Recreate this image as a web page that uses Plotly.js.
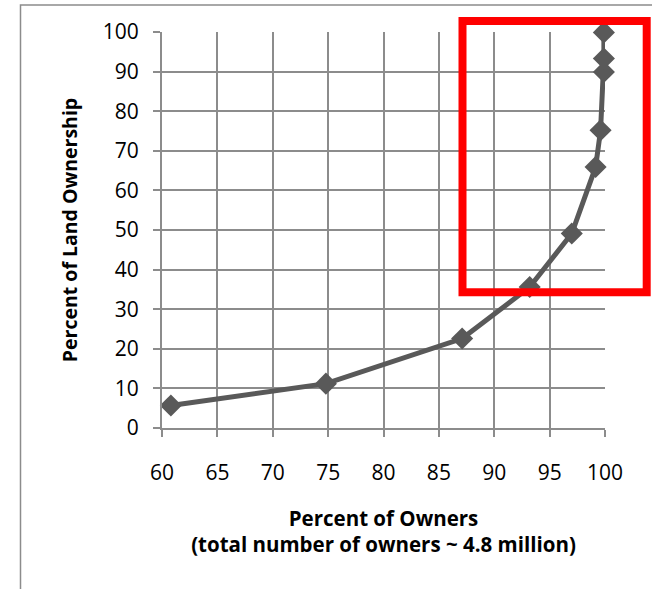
<!DOCTYPE html>
<html><head><meta charset="utf-8">
<script src="https://cdn.plot.ly/plotly-3.0.1.min.js"></script>
<style>html,body{margin:0;padding:0;background:#fff;}#chart{width:652px;height:589px;}</style>
</head><body><div id="chart"></div>
<script>
var ownersPct = [60.8, 74.8, 87.1, 93.2, 97.0, 99.15, 99.6, 99.9, 99.9, 99.9];
var landPct   = [5.7, 11.2, 22.6, 35.6, 49.1, 65.9, 75.2, 89.9, 93.3, 99.9];
var xTicks = [60, 65, 70, 75, 80, 85, 90, 95, 100];
var yTicks = [0, 10, 20, 30, 40, 50, 60, 70, 80, 90, 100];
var xTitle = "Percent of Owners<br>(total number of owners ~ 4.8 million)";
var yTitle = "Percent of Land Ownership";

var FONT = "Open Sans, Liberation Sans, sans-serif";
var grid = "#8c8c8c";
var trace = {
  x: ownersPct, y: landPct, type: "scatter", mode: "lines+markers",
  line: {color: "#595959", width: 5},
  marker: {symbol: "diamond", size: 17, color: "#595959"},
  cliponaxis: false,
  hoverinfo: "x+y", showlegend: false
};
var layout = {
  width: 652, height: 589,
  margin: {l: 162, r: 47, t: 32, b: 161, pad: 0},
  paper_bgcolor: "#ffffff", plot_bgcolor: "#ffffff",
  font: {family: FONT, size: 21, color: "#000"},
  xaxis: {
    range: [60, 100], tickvals: xTicks, ticktext: xTicks.map(String),
    showgrid: true, gridcolor: grid, gridwidth: 2,
    showline: true, linecolor: grid, linewidth: 2,
    ticks: "outside", ticklen: 7, tickwidth: 2, tickcolor: grid,
    ticklabelstandoff: 18, zeroline: false, fixedrange: true,
    tickfont: {family: FONT, size: 21, color: "#000"},
    title: {text: xTitle, standoff: 26, font: {family: FONT, size: 20.5, color: "#000", weight: "bold"}}
  },
  yaxis: {
    range: [0, 100], tickvals: yTicks, ticktext: yTicks.map(String),
    showgrid: true, gridcolor: grid, gridwidth: 2,
    showline: true, linecolor: grid, linewidth: 2,
    ticks: "outside", ticklen: 7, tickwidth: 2, tickcolor: grid,
    ticklabelstandoff: 10, zeroline: false, fixedrange: true,
    tickfont: {family: FONT, size: 21, color: "#000"},
    title: {text: yTitle, standoff: 20, font: {family: FONT, size: 19.5, color: "#000", weight: "bold"}}
  },
  shapes: [
    {type: "rect", xref: "paper", yref: "paper", layer: "below",
     x0: (20.5 - 162) / 443, x1: 1.3, y0: -0.6, y1: (427.5 - 5) / 395.5,
     line: {color: "#8c8c8c", width: 1.5}, fillcolor: "rgba(0,0,0,0)"},
    {type: "rect", xref: "paper", yref: "paper", layer: "above",
     x0: (462.5 - 162) / 443, x1: (646.7 - 162) / 443,
     y0: (427.5 - 292) / 395.5, y1: (427.5 - 21) / 395.5,
     line: {color: "#ff0000", width: 8}, fillcolor: "rgba(0,0,0,0)"}
  ]
};
Plotly.newPlot("chart", [trace], layout, {displayModeBar: false, staticPlot: true});
</script></body></html>
